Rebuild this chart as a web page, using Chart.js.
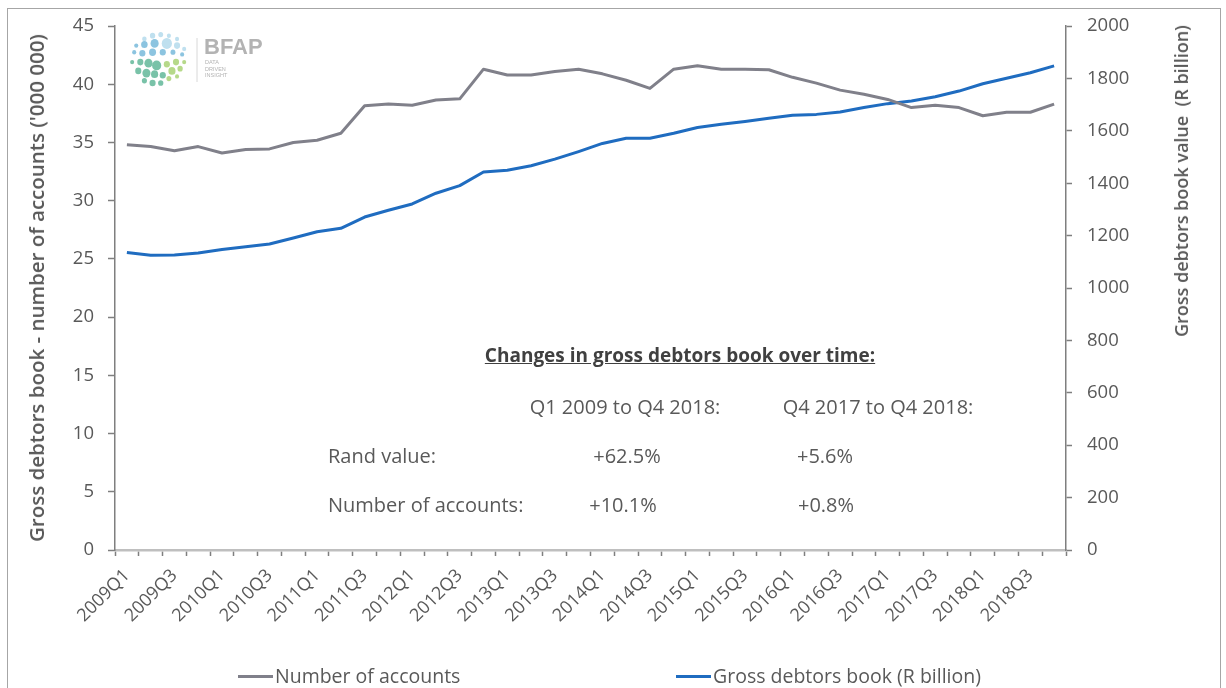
<!DOCTYPE html>
<html>
<head>
<meta charset="utf-8">
<script src="https://cdn.jsdelivr.net/npm/chart.js@4.4.1/dist/chart.umd.min.js"></script>
<style>
  html, body { margin: 0; padding: 0; background: #ffffff; }
  #wrap { position: relative; width: 1226px; height: 688px; overflow: hidden; font-family: "Open Sans", "Liberation Sans", sans-serif; color: #595959; }
  #frame { position: absolute; left: 7px; top: 8px; width: 1212px; height: 720px; border: 1.5px solid #a6a6a6; }
  #c { position: absolute; left: 0; top: 0; }
  .t { position: absolute; white-space: nowrap; font-size: 20px; line-height: 24px; }
  .ctr { transform: translate(-50%, -50%); }
  .lft { transform: translate(0, -50%); }
  .ytitle { position: absolute; white-space: nowrap; font-weight: 600; color: #595959; transform: translate(-50%, -50%) rotate(-90deg); }
  .leg { position: absolute; white-space: nowrap; font-size: 19.5px; line-height: 22px; color: #595959; transform: translate(0, -50%); }
  .legline { position: absolute; height: 3px; }
</style>
</head>
<body>
<div id="wrap">
  <div id="frame"></div>
  <canvas id="c" width="1226" height="688"></canvas>

  <svg style="position:absolute;left:120px;top:26px" width="150" height="66" viewBox="0 0 150 66">
    <g transform="translate(4,2) scale(1.02,1.1)">
    <g fill="#bfe0ef">
      <circle cx="20" cy="10" r="2.2"/><circle cx="28" cy="7" r="2.6"/><circle cx="36" cy="6" r="2.4"/><circle cx="44" cy="7" r="2"/><circle cx="52" cy="10" r="2"/>
      <circle cx="42" cy="14" r="5"/><circle cx="52" cy="16" r="3"/><circle cx="59" cy="19" r="2"/>
    </g>
    <g fill="#8cc4e0">
      <circle cx="12" cy="16" r="2"/><circle cx="20" cy="15" r="3.2"/><circle cx="30" cy="14" r="4"/>
      <circle cx="10" cy="22" r="2"/><circle cx="18" cy="23" r="3"/><circle cx="28" cy="22" r="3.4"/><circle cx="38" cy="22" r="3"/><circle cx="48" cy="22" r="2.4"/><circle cx="57" cy="24" r="2"/>
    </g>
    <g fill="#79c2a8">
      <circle cx="8" cy="31" r="2"/><circle cx="16" cy="31" r="3"/><circle cx="24" cy="32" r="4"/><circle cx="32" cy="34" r="4.5"/>
      <circle cx="14" cy="39" r="3"/><circle cx="22" cy="41" r="4"/><circle cx="30" cy="42" r="3.5"/><circle cx="38" cy="43" r="3"/>
      <circle cx="20" cy="48" r="2.5"/><circle cx="28" cy="50" r="3"/><circle cx="36" cy="50" r="2.6"/>
    </g>
    <g fill="#b6d98a">
      <circle cx="42" cy="33" r="3"/><circle cx="51" cy="31" r="3"/><circle cx="59" cy="31" r="2"/>
      <circle cx="47" cy="39" r="3.5"/><circle cx="55" cy="37" r="2.6"/><circle cx="44" cy="46" r="2.4"/><circle cx="52" cy="44" r="2"/>
    </g>
    </g>
    <line x1="77" y1="12" x2="77" y2="56" stroke="#d8d8d8" stroke-width="1"/>
    <text x="84" y="28" font-family="Liberation Sans, Arial, sans-serif" font-weight="bold" font-size="22" fill="#b3b3b3">BFAP</text>
    <text x="85" y="38" font-family="Liberation Sans, Arial, sans-serif" font-size="5.5" fill="#b3b3b3">DATA</text>
    <text x="85" y="44.5" font-family="Liberation Sans, Arial, sans-serif" font-size="5.5" fill="#b3b3b3">DRIVEN</text>
    <text x="85" y="51" font-family="Liberation Sans, Arial, sans-serif" font-size="5.5" fill="#b3b3b3">INSIGHT</text>
  </svg>

  <div class="ytitle" style="left:36px;top:288px;font-size:20.5px">Gross debtors book - number of accounts ('000 000)</div>
  <div class="ytitle" style="left:1181px;top:181px;font-size:18px">Gross debtors book value&nbsp; (R billion)</div>

  <div class="t ctr" style="left:680px;top:355px;font-weight:bold;text-decoration:underline;color:#404040;font-size:19px">Changes in gross debtors book over time:</div>
  <div class="t ctr" style="left:625px;top:407px">Q1 2009 to Q4 2018:</div>
  <div class="t ctr" style="left:878px;top:407px">Q4 2017 to Q4 2018:</div>
  <div class="t lft" style="left:328px;top:456px">Rand value:</div>
  <div class="t ctr" style="left:627px;top:456px">+62.5%</div>
  <div class="t ctr" style="left:825px;top:456px">+5.6%</div>
  <div class="t lft" style="left:328px;top:505px">Number of accounts:</div>
  <div class="t ctr" style="left:623px;top:505px">+10.1%</div>
  <div class="t ctr" style="left:826px;top:505px">+0.8%</div>

  <div class="legline" style="left:238px;top:675px;width:35px;background:#80808a"></div>
  <div class="leg" style="left:275px;top:676px">Number of accounts</div>
  <div class="legline" style="left:676px;top:675px;width:35px;background:#1f6cc0"></div>
  <div class="leg" style="left:713px;top:676px">Gross debtors book (R billion)</div>
</div>

<script>
const quarters = [
  "2009Q1","2009Q2","2009Q3","2009Q4","2010Q1","2010Q2","2010Q3","2010Q4",
  "2011Q1","2011Q2","2011Q3","2011Q4","2012Q1","2012Q2","2012Q3","2012Q4",
  "2013Q1","2013Q2","2013Q3","2013Q4","2014Q1","2014Q2","2014Q3","2014Q4",
  "2015Q1","2015Q2","2015Q3","2015Q4","2016Q1","2016Q2","2016Q3","2016Q4",
  "2017Q1","2017Q2","2017Q3","2017Q4","2018Q1","2018Q2","2018Q3","2018Q4"
];

// Number of accounts ('000 000), left axis
const accounts = [
  34.8, 34.65, 34.3, 34.65, 34.1, 34.4, 34.45, 35.0,
  35.2, 35.8, 38.15, 38.3, 38.2, 38.65, 38.75, 41.3,
  40.8, 40.8, 41.1, 41.3, 40.9, 40.35, 39.65, 41.3,
  41.6, 41.3, 41.3, 41.25, 40.6, 40.1, 39.5, 39.15,
  38.7, 38.0, 38.2, 38.0, 37.3, 37.6, 37.6, 38.3
];

// Gross debtors book (R billion), right axis
const book = [
  1136, 1125, 1126, 1134, 1147, 1158, 1168, 1191,
  1215, 1228, 1271, 1297, 1321, 1362, 1391, 1443,
  1450, 1467, 1492, 1521, 1552, 1572, 1572, 1591,
  1613, 1625, 1636, 1648, 1660, 1663, 1672, 1689,
  1704, 1714, 1730, 1752, 1780, 1801, 1822, 1848
];

const leftTicks = { min: 0, max: 45, step: 5 };
const rightTicks = { min: 0, max: 2000, step: 200 };

const tickFont = { family: "'Open Sans', 'Liberation Sans', sans-serif", size: 18.5 };
const xTickFont = { family: "'Open Sans', 'Liberation Sans', sans-serif", size: 18 };
const axisGrey = '#7f7f7f';
const textGrey = '#595959';
const plain = (v) => String(v);

new Chart(document.getElementById('c').getContext('2d'), {
  type: 'line',
  data: {
    labels: quarters,
    datasets: [
      { label: 'Number of accounts', data: accounts, yAxisID: 'yL', borderColor: '#80808a', backgroundColor: '#80808a',
        borderWidth: 3, pointRadius: 0, tension: 0, fill: false, borderJoinStyle: 'round' },
      { label: 'Gross debtors book (R billion)', data: book, yAxisID: 'yR', borderColor: '#1f6cc0', backgroundColor: '#1f6cc0',
        borderWidth: 3, pointRadius: 0, tension: 0, fill: false, borderJoinStyle: 'round' }
    ]
  },
  options: {
    responsive: false,
    animation: false,
    devicePixelRatio: 1,
    layout: { padding: { top: 25, left: 0, right: 0, bottom: 0 } },
    plugins: { legend: { display: false }, tooltip: { enabled: false }, title: { display: false } },
    scales: {
      x: {
        type: 'category',
        offset: true,
        grid: { offset: true, drawOnChartArea: false, drawTicks: true, tickLength: 6, tickColor: axisGrey, tickWidth: 1.5 },
        border: { color: '#bfbfbf', width: 2.5 },
        ticks: {
          autoSkip: false, maxRotation: 45, minRotation: 45, padding: 9, color: textGrey, font: xTickFont,
          callback: function (val, idx) { return idx % 2 === 0 ? this.getLabelForValue(val) : ''; }
        },
        afterFit: (s) => { s.height = 138; }
      },
      yL: {
        position: 'left', min: leftTicks.min, max: leftTicks.max,
        grid: { drawOnChartArea: false, tickLength: 7, tickColor: axisGrey, tickWidth: 1.5 },
        border: { color: axisGrey, width: 1.5 },
        ticks: { stepSize: leftTicks.step, padding: 14, color: textGrey, font: tickFont, callback: plain },
        afterFit: (s) => { s.width = 115; }
      },
      yR: {
        position: 'right', min: rightTicks.min, max: rightTicks.max,
        grid: { drawOnChartArea: false, tickLength: 6, tickColor: axisGrey, tickWidth: 1.5 },
        border: { color: axisGrey, width: 1.5 },
        ticks: { stepSize: rightTicks.step, padding: 15, color: textGrey, font: tickFont, callback: plain },
        afterFit: (s) => { s.width = 160; }
      }
    }
  }
});
</script>
</body>
</html>
